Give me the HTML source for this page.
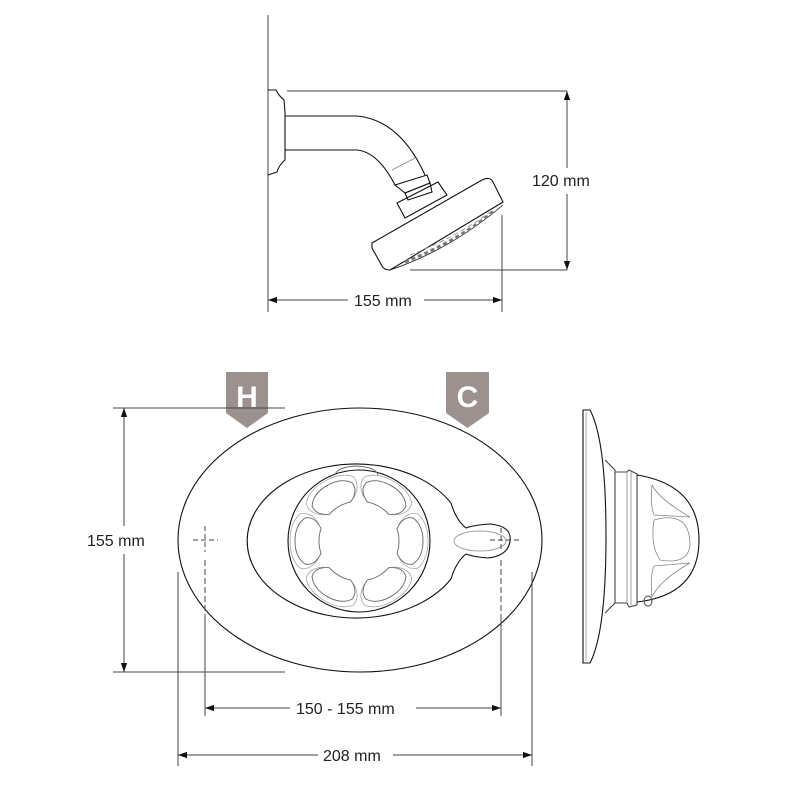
<!DOCTYPE html>
<html><head><style>
html,body{margin:0;padding:0;background:#fff;}
svg{display:block}
text{font-family:"Liberation Sans",sans-serif;font-size:16px;fill:#222}
</style></head><body>
<svg width="800" height="800" viewBox="0 0 800 800" xmlns="http://www.w3.org/2000/svg">
<defs>
<marker id="a" viewBox="0 0 10 10" refX="10" refY="5" markerWidth="9" markerHeight="9" orient="auto-start-reverse" markerUnits="userSpaceOnUse"><path d="M0,1.5 L10,5 L0,8.5 z" fill="#111"/></marker>
</defs>
<g fill="none" stroke="#111" stroke-width="1.1">
<line x1="268" y1="15" x2="268" y2="312" stroke="#555"/>
<path d="M268,90 L276,90 Q279,96 284,100 L285,112 L285,160 Q279,165 277,172 L268,175"/>
<path d="M285,116 L357,116 Q400,120 425,175"/>
<path d="M285,150 L357,150 Q378,152 395,185"/>
<line x1="392" y1="170" x2="415" y2="158" stroke="#888" stroke-width="0.8"/>
<path d="M395,185 L427,175 L430,183 L405,193 Z"/>
<path d="M405,193 L430,183 L432,192 L408,200 Z"/>
<path d="M397,203 L438,182 L447,195 L405,218 Z"/>
<path d="M372,243 L482,180 Q490,176 493,182 L503,202 L390,270 Q384,270 382,266 L372,248 Z"/>
<path d="M390,270 Q450,250 503,205" stroke-width="0.8"/>
<path d="M405,262 Q460,240 495,210" stroke="#777" stroke-width="3" stroke-dasharray="4,3"/>
<path d="M410,255 Q455,238 490,212" stroke="#999" stroke-width="1" stroke-dasharray="5,3"/>
</g>
<g stroke="#444" stroke-width="1" fill="none">
<line x1="287" y1="91" x2="567" y2="91"/>
<line x1="410" y1="270" x2="567" y2="270"/>
<line x1="567" y1="91" x2="567" y2="168" marker-start="url(#a)"/>
<line x1="567" y1="194" x2="567" y2="270" marker-end="url(#a)"/>
<line x1="502" y1="215" x2="502" y2="312"/>
<line x1="268" y1="300" x2="348" y2="300" marker-start="url(#a)"/>
<line x1="424" y1="300" x2="502" y2="300" marker-end="url(#a)"/>
</g>
<text x="532" y="186">120 mm</text>
<text x="354" y="306">155 mm</text>

<path d="M226,372 L268,372 L268,413 L247,428 L226,413 Z" fill="#9b918e"/>
<path d="M446,372 L489,372 L489,413 L467.5,428 L446,413 Z" fill="#9b918e"/>
<text x="247" y="407" text-anchor="middle" style="font-size:30px;font-weight:bold;fill:#fff">H</text>
<text x="467.5" y="407" text-anchor="middle" style="font-size:30px;font-weight:bold;fill:#fff">C</text>

<g fill="none" stroke="#111" stroke-width="1.1">
<ellipse cx="360" cy="540" rx="182" ry="132"/>
<path d="M451,503 A109,77 0 1 0 451,579"/>
<path d="M451,503 Q456,520 466,528 Q474,525 490,524 Q512,526 510,541 Q508,556 488,558 Q474,557 466,554 Q456,562 451,579"/>
<ellipse cx="480" cy="541" rx="26" ry="10" stroke="#888" stroke-width="0.8"/>
<circle cx="359" cy="541" r="71"/>
<path d="M335,475 Q337,467 356,466 Q376,467 378,475" stroke="#666" stroke-width="0.9"/>
</g>
<g fill="none" stroke="#666" stroke-width="0.9" transform="translate(359,541)">
<g id="p"><path d="M38,-12.4 Q44,-25 54,-23 Q64,-16 64,0 Q64,16 54,23 Q44,25 38,12.4 A40,40 0 0 0 38,-12.4 Z"/><path d="M40,-17 Q48,-30 59,-27 Q69,-18 69,0 Q69,18 59,27 Q48,30 40,17" stroke="#999" stroke-width="0.7"/></g>
<use href="#p" transform="rotate(60)"/><use href="#p" transform="rotate(120)"/><use href="#p" transform="rotate(180)"/><use href="#p" transform="rotate(240)"/><use href="#p" transform="rotate(300)"/>
</g>
<g stroke="#444" stroke-width="1" fill="none">
<path d="M193,540 L218,540 M205,526 L205,552 M490,540 L520,540 M501,528 L501,552" stroke-dasharray="5,3"/>
<line x1="205" y1="560" x2="205" y2="716" stroke-dasharray="6,3"/>
<line x1="501" y1="560" x2="501" y2="716" stroke-dasharray="6,3"/>
<line x1="205" y1="620" x2="205" y2="716"/>
<line x1="501" y1="620" x2="501" y2="716"/>
<line x1="178" y1="572" x2="178" y2="766"/>
<line x1="532" y1="572" x2="532" y2="766"/>
<line x1="113" y1="408" x2="285" y2="408"/>
<line x1="113" y1="672" x2="285" y2="672"/>
<line x1="124" y1="408" x2="124" y2="526" marker-start="url(#a)"/>
<line x1="124" y1="554" x2="124" y2="672" marker-end="url(#a)"/>
<line x1="205" y1="708" x2="290" y2="708" marker-start="url(#a)"/>
<line x1="416" y1="708" x2="501" y2="708" marker-end="url(#a)"/>
<line x1="178" y1="755" x2="318" y2="755" marker-start="url(#a)"/>
<line x1="393" y1="755" x2="532" y2="755" marker-end="url(#a)"/>
</g>
<text x="87" y="546">155 mm</text>
<text x="296" y="714">150 - 155 mm</text>
<text x="323" y="761">208 mm</text>

<g fill="none" stroke="#111" stroke-width="1.1">
<path d="M583,410 L590,410 Q606,440 606,536 Q606,632 590,663 L583,663 Z"/>
<line x1="586" y1="412" x2="586" y2="661" stroke="#999" stroke-width="0.8"/>
<path d="M605,460 L615,470 L615,603 L605,613" stroke="#444"/>
<path d="M615,472 L627,472 L629,470 L637,474 L637,605 L629,607 L627,603 L615,603" stroke="#444"/>
<line x1="627" y1="472" x2="627" y2="603" stroke="#888" stroke-width="0.8"/>
<line x1="631" y1="472" x2="631" y2="605" stroke="#888" stroke-width="0.8"/>
<path d="M637,475 Q699,485 699,540 Q699,595 637,602"/>
<ellipse cx="648" cy="601" rx="4" ry="5" stroke="#555"/>
</g>
<g fill="none" stroke="#888" stroke-width="0.8">
<path d="M652,485 Q660,500 690,517 M652,485 Q650,505 654,515 L690,517"/>
<path d="M654,520 Q690,510 690,545 Q688,565 660,560 Q650,545 654,520"/>
<path d="M652,597 Q660,580 690,563 M652,597 Q650,575 654,566 L690,563"/>
</g>
</svg>
</body></html>
